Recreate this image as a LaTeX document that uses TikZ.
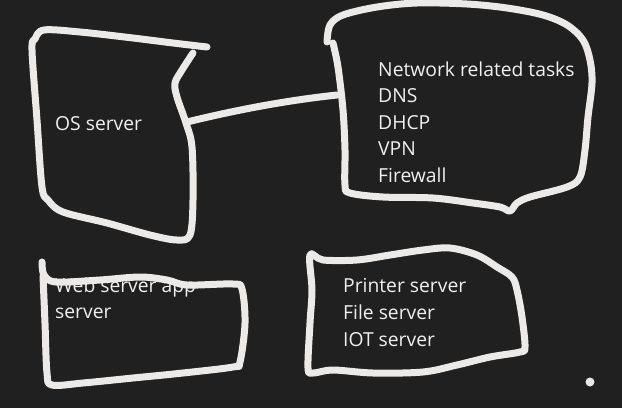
\documentclass[tikz,border=0pt]{standalone}
\usepackage{fontspec}
\setmainfont{Open Sans}
\definecolor{bg}{RGB}{32,32,32}
\definecolor{ink}{RGB}{236,234,232}
\definecolor{txtc}{RGB}{240,240,240}
\begin{document}
\begin{tikzpicture}[x=1pt,y=-1pt,line cap=round,line join=round,
  stroke/.style={draw=ink,line width=7pt},
  txt/.style={text=txtc,font=\fontsize{19.3}{24}\selectfont,inner sep=0pt,anchor=base west}]
\fill[bg] (0,0) rectangle (622,408);
\useasboundingbox (0,0) rectangle (622,408);
% texts
\node[txt] (os) at (55,130) {OS server};
\node[txt] (n1) at (378,76) {Network related tasks};
\node[txt] (n2) at (378,102.5) {DNS};
\node[txt] (n3) at (378,129) {DHCP};
\node[txt] (n4) at (378,155.5) {VPN};
\node[txt] (n5) at (378,182.5) {Firewall};
\node[txt] (w1) at (55,292) {Web server app};
\node[txt] (w2) at (55,318.5) {server};
\node[txt] (p1) at (343,292) {Printer server};
\node[txt] (p2) at (343,319) {File server};
\node[txt] (p3) at (343,346) {IOT server};
% OS box
\draw[stroke] plot[smooth,tension=0.55] coordinates {(207,47) (173,43) (133,38) (80,32) (44,30) (35,39) (32,50) (37,120) (42,187) (48,200) (63,212) (107,223) (150,235) (177,240) (190,235) (193,200) (192,147) (186,123) (177,97) (175,83) (182,70) (193,53)};
% network box
\draw[stroke] plot[smooth,tension=0.55] coordinates {(327,42) (330,25) (343,15) (377,7) (417,3) (467,4) (507,8) (543,15) (567,25) (583,40) (590,60) (592,83) (588,117) (585,150) (580,177) (567,187) (530,197) (517,203) (510,211) (500,207) (473,203) (433,198) (383,197) (350,193) (345,185) (345,150) (343,110) (338,67) (333,43)};
% connector
\coordinate (osR) at (187,122);
\coordinate (netL) at (337,95);
\draw[stroke] (osR) .. controls (240,109) and (290,100) .. (netL);
% web box
\draw[stroke] plot[smooth,tension=0.55] coordinates {(42,262) (44,275) (56,282) (100,280) (140,277) (167,280) (187,285) (233,284) (242,289) (245,323) (240,362) (233,367) (183,373) (133,378) (83,383) (52,385) (47,373) (45,323) (43,276)};
% printer box
\draw[stroke] plot[smooth cycle,tension=0.55] coordinates {(310,255) (323,260) (357,260) (390,255) (423,250) (450,248) (477,255) (497,267) (512,277) (517,290) (522,317) (525,347) (520,352) (490,357) (457,365) (423,372) (373,373) (333,370) (313,373) (308,368) (310,323) (312,290)};
% dot
\fill[ink] (590,382) circle (4.5pt);
\end{tikzpicture}
\end{document}
